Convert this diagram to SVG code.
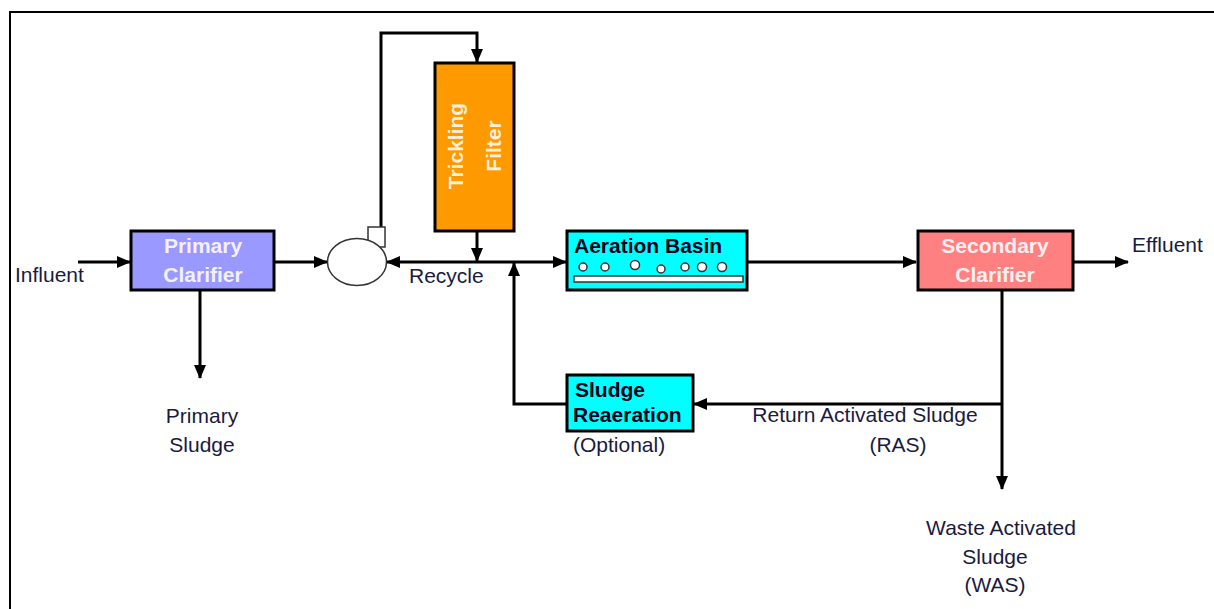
<svg xmlns="http://www.w3.org/2000/svg" width="1214" height="609" viewBox="0 0 1214 609">
  <style>
    .box { stroke: #000; stroke-width: 3; }
    .lbl { font-family: "Liberation Sans", Arial, sans-serif; font-size: 21px; fill: #1a1a40; }
    .wt { font-family: "Liberation Sans", Arial, sans-serif; font-size: 21px; font-weight: bold; fill: #f4f0ff; text-anchor: middle; }
    .bt { font-family: "Liberation Sans", Arial, sans-serif; font-size: 21px; font-weight: bold; fill: #000020; }
    .ln { fill: none; stroke: #000; stroke-width: 3; }
    .bub { fill: #fff; stroke: #333; stroke-width: 1.5; }
  </style>
  <defs>
    <marker id="ah" markerUnits="userSpaceOnUse" markerWidth="14" markerHeight="12" refX="13" refY="6" orient="auto">
      <path d="M0,0 L14,6 L0,12 Z" fill="#000"/>
    </marker>
  </defs>
  <rect width="1214" height="609" fill="#fff"/>
  <rect x="10" y="12" width="1230" height="620" fill="none" stroke="#000" stroke-width="2"/>

  <g id="connectors">
    <path class="ln" d="M78,262 H130" marker-end="url(#ah)"/>
    <path class="ln" d="M275,262 H327" marker-end="url(#ah)"/>
    <path class="ln" d="M381,228 V33 H477 V62" marker-end="url(#ah)"/>
    <path class="ln" d="M477,231 V261" marker-end="url(#ah)"/>
    <path class="ln" d="M514,262 H387" marker-end="url(#ah)"/>
    <path class="ln" d="M514,262 H566" marker-end="url(#ah)"/>
    <path class="ln" d="M567,404 H514 V263" marker-end="url(#ah)"/>
    <path class="ln" d="M747,262 H916" marker-end="url(#ah)"/>
    <path class="ln" d="M1073,262 H1128" marker-end="url(#ah)"/>
    <path class="ln" d="M200,290 V378" marker-end="url(#ah)"/>
    <path class="ln" d="M1002,290 V489" marker-end="url(#ah)"/>
    <path class="ln" d="M1002,404 H694" marker-end="url(#ah)"/>
  </g>

  <g id="influent">
    <text class="lbl" x="15" y="282">Influent</text>
  </g>

  <g id="primary-clarifier">
    <rect class="box" x="131" y="231" width="143" height="59" fill="#9999ff"/>
    <text class="wt" x="203" y="253">Primary</text>
    <text class="wt" x="203" y="282">Clarifier</text>
  </g>

  <g id="primary-sludge">
    <text class="lbl" x="202" y="423" text-anchor="middle">Primary</text>
    <text class="lbl" x="202" y="452" text-anchor="middle">Sludge</text>
  </g>

  <g id="pump">
    <rect x="368" y="227" width="17" height="20" fill="#fff" stroke="#333" stroke-width="1.5"/>
    <ellipse cx="357" cy="262" rx="29.5" ry="23.5" fill="#fff" stroke="#333" stroke-width="1.5"/>
  </g>

  <g id="trickling-filter">
    <rect class="box" x="435" y="63" width="79" height="168" fill="#ff9900"/>
    <text class="wt" transform="translate(463,146) rotate(-90)" style="fill:#fff0dd">Trickling</text>
    <text class="wt" transform="translate(501,146) rotate(-90)" style="fill:#fff0dd">Filter</text>
  </g>

  <g id="recycle">
    <text class="lbl" x="409" y="283">Recycle</text>
  </g>

  <g id="aeration-basin">
    <rect class="box" x="567" y="231" width="180" height="59" fill="#00ffff"/>
    <text class="bt" x="574" y="253">Aeration Basin</text>
    <circle class="bub" cx="583" cy="267" r="4"/>
    <circle class="bub" cx="605" cy="267" r="4"/>
    <circle class="bub" cx="635" cy="265" r="4.5"/>
    <circle class="bub" cx="661" cy="269" r="4"/>
    <circle class="bub" cx="685" cy="267" r="4"/>
    <circle class="bub" cx="702" cy="267" r="4.5"/>
    <circle class="bub" cx="722" cy="267" r="4.5"/>
    <rect x="574" y="276" width="169" height="6" fill="#fff" stroke="#333" stroke-width="1.5"/>
  </g>

  <g id="secondary-clarifier">
    <rect class="box" x="918" y="231" width="155" height="59" fill="#ff8080"/>
    <text class="wt" x="995" y="253" style="fill:#fff0f0">Secondary</text>
    <text class="wt" x="995" y="282" style="fill:#fff0f0">Clarifier</text>
  </g>

  <g id="effluent">
    <text class="lbl" x="1132" y="252">Effluent</text>
  </g>

  <g id="sludge-reaeration">
    <rect class="box" x="567" y="375" width="126" height="56" fill="#00ffff"/>
    <text class="bt" x="575" y="397">Sludge</text>
    <text class="bt" x="573" y="422">Reaeration</text>
    <text class="lbl" x="573" y="452">(Optional)</text>
  </g>

  <g id="ras">
    <text class="lbl" x="865" y="422" text-anchor="middle">Return Activated Sludge</text>
    <text class="lbl" x="898" y="452" text-anchor="middle">(RAS)</text>
  </g>

  <g id="was">
    <text class="lbl" x="1001" y="535" text-anchor="middle">Waste Activated</text>
    <text class="lbl" x="995" y="564" text-anchor="middle">Sludge</text>
    <text class="lbl" x="995" y="592" text-anchor="middle">(WAS)</text>
  </g>
</svg>
